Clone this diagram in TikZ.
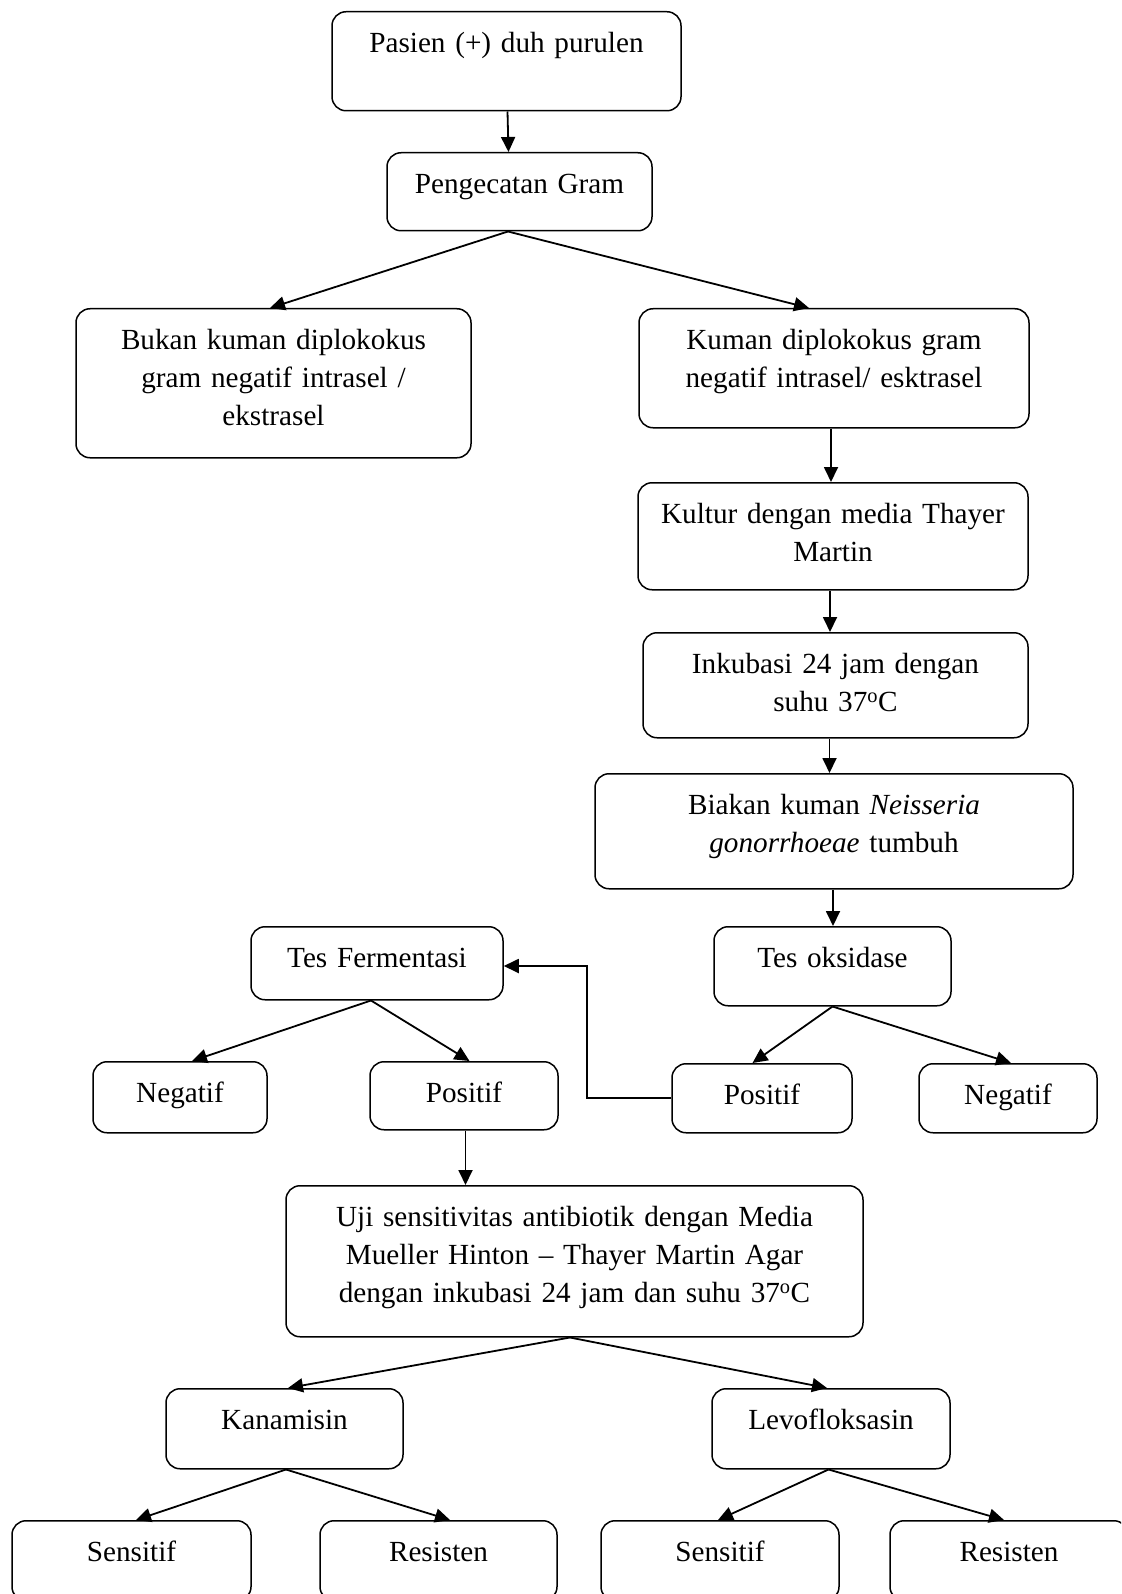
\documentclass[tikz,border=0pt]{standalone}
\usepackage{fontspec}
\setmainfont{Liberation Serif}
\usetikzlibrary{arrows.meta}
\tikzset{box/.style={draw, line width=1.5pt, rounded corners=14pt, anchor=north, align=center,
    inner xsep=0pt, inner ysep=21pt, text height=20pt, font=\fontsize{29.2pt}{38pt}\selectfont},
  arr/.style={line width=1.8pt, -{Triangle[length=15pt,width=14pt]}}}

\begin{document}
\begin{tikzpicture}[x=1pt,y=-1pt]

          \useasboundingbox (0,0) rectangle (1121,1594);
          \clip (0,0) rectangle (1121,1594);

          \node[box, text width=349pt, text depth=37pt] (pasien) at (506.5, 11){Pasien (+) duh purulen};
          \node[box, text width=265pt, text depth=16pt] (gram) at (519.5, 152){Pengecatan Gram};
          \node[box, text width=395pt, text depth=87pt] (bukan) at (273.5, 308){Bukan kuman diplokokus\\ gram negatif intrasel /\\ ekstrasel};
          \node[box, text width=390pt, text depth=57pt] (kuman) at (834, 308){Kuman diplokokus gram\\ negatif intrasel/ esktrasel};
          \node[box, text width=390pt, text depth=45pt] (kultur) at (833, 482){Kultur dengan media Thayer\\ Martin};
          \node[box, text width=385pt, text depth=43pt] (inkubasi) at (835.5, 632){Inkubasi 24 jam dengan\\ suhu 37\textsuperscript{o}C};
          \node[box, text width=478pt, text depth=53pt] (biakan) at (834, 773){Biakan kuman \textit{Neisseria}\\ \textit{gonorrhoeae} tumbuh};
          \node[box, text width=237pt, text depth=17pt] (oksidase) at (832.5, 926){Tes oksidase};
          \node[box, text width=252pt, text depth=11pt] (fermentasi) at (377, 926){Tes Fermentasi};
          \node[box, text width=180pt, text depth=7pt] (posR) at (762, 1063){Positif};
          \node[box, text width=178pt, text depth=7pt] (negR) at (1008, 1063){Negatif};
          \node[box, text width=174pt, text depth=9pt] (negL) at (180, 1061){Negatif};
          \node[box, text width=188pt, text depth=6pt] (posL) at (464, 1061){Positif};
          \node[box, text width=577pt, text depth=89pt] (uji) at (574.5, 1185){Uji sensitivitas antibiotik dengan Media\\ Mueller Hinton -- Thayer Martin Agar\\ dengan inkubasi 24 jam dan suhu 37\textsuperscript{o}C};
          \node[box, text width=237pt, text depth=18pt] (kana) at (284.5, 1388){Kanamisin};
          \node[box, text width=238pt, text depth=18pt] (levo) at (831, 1388){Levofloksasin};
          \node[box, text width=239pt, text depth=18pt] (sens1) at (131.5, 1520){Sensitif};
          \node[box, text width=237pt, text depth=18pt] (res1) at (438.5, 1520){Resisten};
          \node[box, text width=238pt, text depth=18pt] (sens2) at (720, 1520){Sensitif};
          \node[box, text width=238pt, text depth=18pt] (res2) at (1009, 1520){Resisten};

          \coordinate (bend) at (587, 966);

          \draw[arr]([xshift=1pt]pasien.south)--([xshift=-11pt]gram.north);
          \draw[arr]([xshift=-11.5pt]gram.south)--([xshift=-3.5pt]bukan.north);
          \draw[arr]([xshift=-11.5pt]gram.south)--([xshift=-25pt]kuman.north);
          \draw[arr]([xshift=-3pt]kuman.south)--([xshift=-3pt]kuman.south |- kultur.north);
          \draw[arr]([xshift=-3pt]kultur.south)--([xshift=-3pt]kultur.south |- inkubasi.north);
          \draw[arr]([xshift=-6pt]inkubasi.south)--([xshift=-6pt]inkubasi.south |- biakan.north);
          \draw[arr]([xshift=-1pt]biakan.south)--([xshift=-1pt]biakan.south |- oksidase.north);
          \draw[arr](oksidase.south)--([xshift=-9.5pt]posR.north);
          \draw[arr](oksidase.south)--([xshift=3pt]negR.north);
          \draw[arr](posR.west)-|(bend)--(fermentasi.east |- bend);
          \draw[arr]([xshift=-6pt]fermentasi.south)--([xshift=12pt]negL.north);
          \draw[arr]([xshift=-6pt]fermentasi.south)--([xshift=5.5pt]posL.north);
          \draw[arr]([xshift=1.5pt]posL.south)--([xshift=1.5pt]posL.south |- uji.north);
          \draw[arr]([xshift=-4.5pt]uji.south)--([xshift=3.5pt]kana.north);
          \draw[arr]([xshift=-4.5pt]uji.south)--([xshift=-4pt]levo.north);
          \draw[arr]([xshift=1.5pt]kana.south)--([xshift=4.5pt]sens1.north);
          \draw[arr]([xshift=1.5pt]kana.south)--([xshift=11.5pt]res1.north);
          \draw[arr]([xshift=-2.5pt]levo.south)--([xshift=-2pt]sens2.north);
          \draw[arr]([xshift=-2.5pt]levo.south)--([xshift=-5pt]res2.north);

        \end{tikzpicture}
\end{document}
